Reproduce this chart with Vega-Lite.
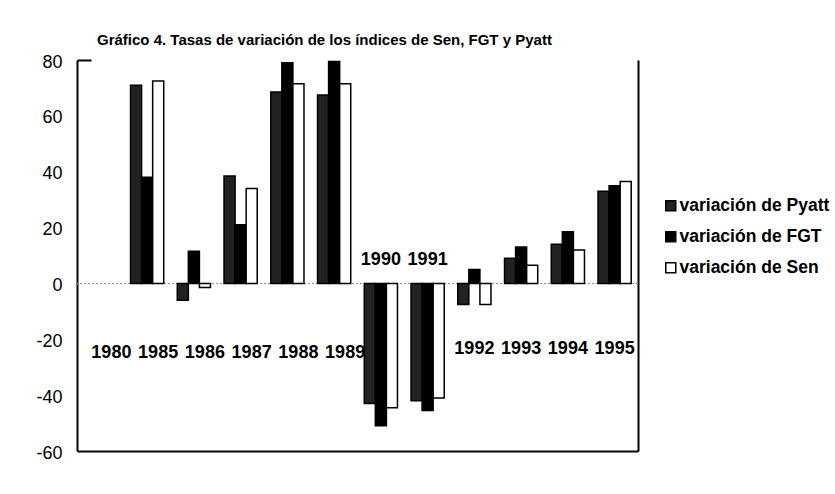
{
  "$schema": "https://vega.github.io/schema/vega-lite/v6.json",
  "width": 561,
  "height": 391,
  "autosize": {"type": "none"},
  "padding": {"left": 77, "top": 60, "right": 197, "bottom": 43},
  "background": "white",
  "config": {"view": {"stroke": null}, "font": "Liberation Sans"},
  "title": {
    "text": "Gráfico 4. Tasas de variación de los índices de Sen, FGT y Pyatt",
    "anchor": "start",
    "frame": "group",
    "dx": 20,
    "offset": 5,
    "fontSize": 15,
    "fontWeight": "bold",
    "font": "Liberation Sans",
    "color": "black"
  },
  "datasets": {
    "bars": [
      {"year": "1985", "series": "variación de Pyatt", "value": 71},
      {"year": "1985", "series": "variación de FGT", "value": 38},
      {"year": "1985", "series": "variación de Sen", "value": 72.5},
      {"year": "1986", "series": "variación de Pyatt", "value": -6},
      {"year": "1986", "series": "variación de FGT", "value": 11.5},
      {"year": "1986", "series": "variación de Sen", "value": -1.5},
      {"year": "1987", "series": "variación de Pyatt", "value": 38.5},
      {"year": "1987", "series": "variación de FGT", "value": 21},
      {"year": "1987", "series": "variación de Sen", "value": 34},
      {"year": "1988", "series": "variación de Pyatt", "value": 68.5},
      {"year": "1988", "series": "variación de FGT", "value": 79},
      {"year": "1988", "series": "variación de Sen", "value": 71.5},
      {"year": "1989", "series": "variación de Pyatt", "value": 67.5},
      {"year": "1989", "series": "variación de FGT", "value": 79.5},
      {"year": "1989", "series": "variación de Sen", "value": 71.5},
      {"year": "1990", "series": "variación de Pyatt", "value": -43},
      {"year": "1990", "series": "variación de FGT", "value": -51},
      {"year": "1990", "series": "variación de Sen", "value": -44.5},
      {"year": "1991", "series": "variación de Pyatt", "value": -42},
      {"year": "1991", "series": "variación de FGT", "value": -45.5},
      {"year": "1991", "series": "variación de Sen", "value": -41},
      {"year": "1992", "series": "variación de Pyatt", "value": -7.5},
      {"year": "1992", "series": "variación de FGT", "value": 5},
      {"year": "1992", "series": "variación de Sen", "value": -7.5},
      {"year": "1993", "series": "variación de Pyatt", "value": 9},
      {"year": "1993", "series": "variación de FGT", "value": 13},
      {"year": "1993", "series": "variación de Sen", "value": 6.5},
      {"year": "1994", "series": "variación de Pyatt", "value": 14},
      {"year": "1994", "series": "variación de FGT", "value": 18.5},
      {"year": "1994", "series": "variación de Sen", "value": 12},
      {"year": "1995", "series": "variación de Pyatt", "value": 33},
      {"year": "1995", "series": "variación de FGT", "value": 35},
      {"year": "1995", "series": "variación de Sen", "value": 36.5}
    ],
    "years": [
      {"year": "1980"}, {"year": "1985"}, {"year": "1986"}, {"year": "1987"},
      {"year": "1988"}, {"year": "1989"}, {"year": "1990"}, {"year": "1991"},
      {"year": "1992"}, {"year": "1993"}, {"year": "1994"}, {"year": "1995"}
    ]
  },
  "resolve": {"axis": {"y": "independent"}},
  "layer": [
    {
      "data": {"values": [{}]},
      "mark": {"type": "rule", "strokeDash": [2, 2], "color": "#888888", "strokeWidth": 1},
      "encoding": {
        "y": {
          "datum": 0,
          "type": "quantitative",
          "scale": {"domain": [-60, 80], "nice": false},
          "axis": {"orient": "right", "labels": false, "ticks": false, "grid": false, "title": null, "domainColor": "black", "domainWidth": 2}
        }
      }
    },
    {
      "data": {"name": "bars"},
      "mark": {"type": "bar", "stroke": "black", "strokeWidth": 1.5},
      "encoding": {
        "x": {
          "field": "year",
          "type": "nominal",
          "scale": {
            "domain": ["1980", "1985", "1986", "1987", "1988", "1989", "1990", "1991", "1992", "1993", "1994", "1995"],
            "paddingInner": 0.29,
            "paddingOuter": 0.145
          },
          "axis": {"labels": false, "ticks": false, "title": null, "domainColor": "black", "domainWidth": 2}
        },
        "xOffset": {
          "field": "series",
          "type": "nominal",
          "sort": ["variación de Pyatt", "variación de FGT", "variación de Sen"]
        },
        "y": {
          "field": "value",
          "type": "quantitative",
          "scale": {"domain": [-60, 80], "nice": false},
          "axis": {
            "orient": "left",
            "values": [-60, -40, -20, 0, 20, 40, 60, 80],
            "labelExpr": "'' + datum.value",
            "title": null,
            "grid": false,
            "labelFontSize": 18,
            "labelFont": "Liberation Sans",
            "labelColor": "black",
            "labelOffset": 2,
            "domainColor": "black",
            "domainWidth": 2,
            "tickSize": -14,
            "tickWidth": 2,
            "tickColor": {"condition": {"test": "datum.value === 80", "value": "black"}, "value": "transparent"},
            "labelPadding": 29
          }
        },
        "fill": {
          "field": "series",
          "type": "nominal",
          "scale": {
            "domain": ["variación de Pyatt", "variación de FGT", "variación de Sen"],
            "range": ["#222222", "#000000", "#ffffff"]
          },
          "legend": {
            "orient": "none",
            "legendX": 585,
            "legendY": 137,
            "title": null,
            "symbolType": "square",
            "symbolSize": 100,
            "symbolStrokeColor": "black",
            "symbolStrokeWidth": 1.5,
            "labelFontSize": 17.5,
            "labelFontWeight": "bold",
            "labelFont": "Liberation Sans",
            "labelColor": "black",
            "labelLimit": 300,
            "rowPadding": 12,
            "labelOffset": 0
          }
        }
      }
    },
    {
      "data": {"name": "years"},
      "transform": [{"filter": "datum.year < '1990'"}],
      "mark": {"type": "text", "fontSize": 18, "fontWeight": "bold", "font": "Liberation Sans", "color": "black", "dx": 11},
      "encoding": {
        "x": {"field": "year", "type": "nominal"},
        "y": {"datum": -25, "type": "quantitative", "axis": null},
        "text": {"field": "year"}
      }
    },
    {
      "data": {"name": "years"},
      "transform": [{"filter": "datum.year == '1990' || datum.year == '1991'"}],
      "mark": {"type": "text", "fontSize": 18, "fontWeight": "bold", "font": "Liberation Sans", "color": "black"},
      "encoding": {
        "x": {"field": "year", "type": "nominal"},
        "y": {"datum": 8.5, "type": "quantitative", "axis": null},
        "text": {"field": "year"}
      }
    },
    {
      "data": {"name": "years"},
      "transform": [{"filter": "datum.year > '1991'"}],
      "mark": {"type": "text", "fontSize": 18, "fontWeight": "bold", "font": "Liberation Sans", "color": "black"},
      "encoding": {
        "x": {"field": "year", "type": "nominal"},
        "y": {"datum": -23.5, "type": "quantitative", "axis": null},
        "text": {"field": "year"}
      }
    }
  ]
}
